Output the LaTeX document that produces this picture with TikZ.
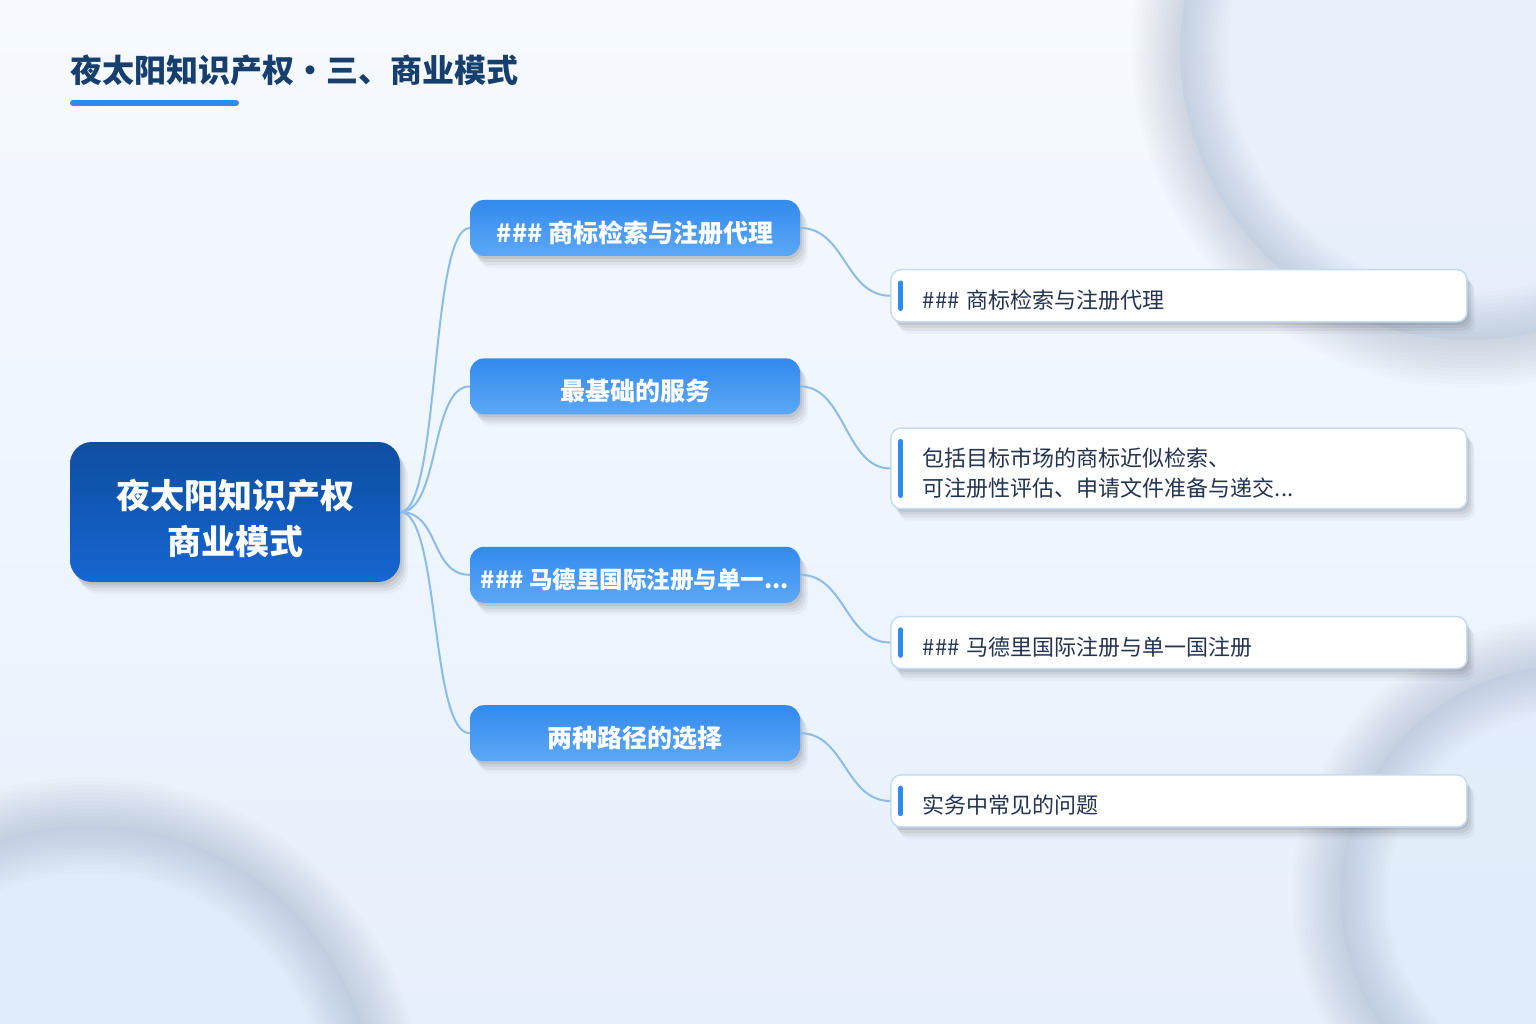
\documentclass[tikz,border=0pt]{standalone}
\usepackage{fontspec}
\setmainfont{Noto Sans CJK SC}
\usepackage{tikz}
\usetikzlibrary{arrows.meta, positioning, shadows}
\definecolor{bgtop}{RGB}{246, 250, 254}
\definecolor{bgbottom}{RGB}{230, 240, 252}
\definecolor{ringgray}{RGB}{120, 135, 160}
\definecolor{ringfill}{RGB}{220, 233, 250}
\definecolor{titlenavy}{RGB}{22, 63, 110}
\definecolor{accentblue}{RGB}{47, 138, 239}
\definecolor{roottop}{RGB}{13, 78, 160}
\definecolor{rootbottom}{RGB}{22, 102, 210}
\definecolor{midtop}{RGB}{50, 138, 237}
\definecolor{midbottom}{RGB}{92, 168, 246}
\definecolor{linkblue}{RGB}{140, 188, 232}
\definecolor{leafborder}{RGB}{196, 221, 245}
\definecolor{leaftext}{RGB}{34, 52, 82}
\newcommand{\lowtxt}[1]{\raisebox{-0.2em}[\height][\depth]{#1}}

\begin{document}
\begin{tikzpicture}[x=1pt, y=-1pt,
    softshadow/.style={general shadow={fill=black, opacity=0.07, shadow xshift=2pt, shadow yshift=-3pt},
                       general shadow={fill=black, opacity=0.06, shadow xshift=4pt, shadow yshift=-6pt},
                       general shadow={fill=black, opacity=0.05, shadow xshift=6pt, shadow yshift=-9pt},
                       general shadow={fill=black, opacity=0.03, shadow xshift=8pt, shadow yshift=-12pt}},
    rootbox/.style={rectangle, rounded corners=22pt, top color=roottop, bottom color=rootbottom, minimum width=330pt, minimum height=140pt, text=white, align=center, font=\fontsize{34}{46}\selectfont\bfseries, softshadow},
    midbox/.style={rectangle, rounded corners=14pt, top color=midtop, bottom color=midbottom, minimum width=330pt, minimum height=56pt, text=white, font=\fontsize{25}{28}\selectfont\bfseries, softshadow},
    leafbox/.style={rectangle, rounded corners=10pt, draw=leafborder, line width=1.5pt, fill=white, text width=512pt, inner xsep=32pt, inner ysep=15pt, minimum height=52pt, align=left, text=leaftext, font=\fontsize{22}{30}\selectfont, softshadow},
    link/.style={draw=linkblue, line width=2pt},
    accentbar/.style={draw=accentblue, line width=5pt, line cap=round},
    ring/.style={draw=ringgray, opacity=0.024}]

    \fill[top color=bgtop, bottom color=bgbottom] (0,0) rectangle (1536,1024);
    \useasboundingbox (0,0) rectangle (1536,1024);
    \begin{scope}
        \clip (0,0) rectangle (1536,1024);
        \fill[ringfill, opacity=0.5] (1470,50) circle[radius=290];
        \fill[ringfill, opacity=0.5] (90,1110) circle[radius=285];
        \fill[ringfill, opacity=0.5] (1570,895) circle[radius=230];
        \foreach \w in {8,16,...,96} {
            \draw[ring, line width=\w pt] (1470,50) circle[radius=290];
            \draw[ring, line width=\w pt] (90,1110) circle[radius=285];
            \draw[ring, line width=\w pt] (1570,895) circle[radius=230];
        }
    \end{scope}

    \node[anchor=west, inner sep=0pt, text=titlenavy, font=\fontsize{32}{36}\selectfont\bfseries] (title) at (70,70) {夜太阳知识产权・三、商业模式};
    \draw[accentbar, line width=6pt] (73,103) -- (236,103);

    \node[rootbox] (root) at (235,512) {\lowtxt{夜太阳知识产权}\\\lowtxt{商业模式}};

    \node[midbox] (mid1) at (635,228) {\lowtxt{\#\#\# 商标检索与注册代理}};
    \node[midbox, below=102pt of mid1] (mid2) {\lowtxt{最基础的服务}};
    \node[midbox, below=132pt of mid2, font=\fontsize{23.5}{28}\selectfont\bfseries] (mid3) {\lowtxt{\#\#\# 马德里国际注册与单一...}};
    \node[midbox, below=102pt of mid3] (mid4) {\lowtxt{两种路径的选择}};

    \node[leafbox, below right=41pt and 90pt of mid1.east] (leaf1) {\lowtxt{\#\#\# 商标检索与注册代理}};
    \node[leafbox, below right=41pt and 90pt of mid2.east] (leaf2) {\lowtxt{包括目标市场的商标近似检索、}\\\lowtxt{可注册性评估、申请文件准备与递交...}};
    \node[leafbox, below right=41pt and 90pt of mid3.east] (leaf3) {\lowtxt{\#\#\# 马德里国际注册与单一国注册}};
    \node[leafbox, below right=41pt and 90pt of mid4.east] (leaf4) {\lowtxt{实务中常见的问题}};

    \foreach \n in {1,...,4} {
        \draw[link] (root.east) .. controls +(40,0) and +(-40,0) .. (mid\n.west);
        \draw[link] (mid\n.east) .. controls +(45,0) and +(-45,0) .. (leaf\n.west);
        \draw[accentbar] ([xshift=10.5pt, yshift=-14pt]leaf\n.north west) -- ([xshift=10.5pt, yshift=14pt]leaf\n.south west);
    }
\end{tikzpicture}
\end{document}
